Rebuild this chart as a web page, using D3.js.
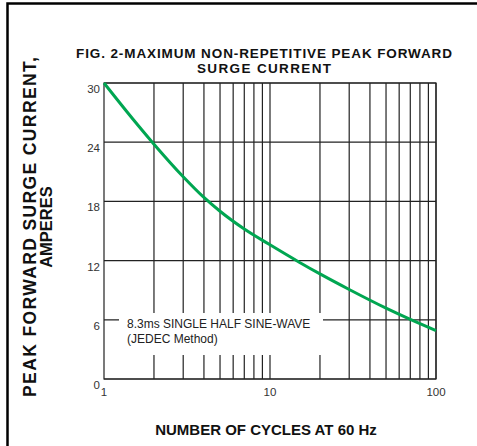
<!DOCTYPE html>
<html><head><meta charset="utf-8">
<script src="https://d3js.org/d3.v7.min.js"></script>
<style>
body{margin:0;background:#fff;}
svg{display:block;font-family:Arial,"Liberation Sans",Helvetica,sans-serif;}
</style></head>
<body>
<script>
// Data
const cycles  = [1, 1.5, 2, 3, 4, 5, 7, 10, 15, 20, 30, 50, 70, 100];
const current = [30, 26.3, 23.8, 20.5, 18.4, 17.0, 15.2, 13.6, 11.84, 10.65, 9.07, 7.18, 6.04, 4.91];
const yTicks = [0, 6, 12, 18, 24, 30];
const xTickLabels = [1, 10, 100];
const xGrid = [2,3,4,5,6,7,8,9,10,20,30,40,50,60,70,80,90,100];
const titleLines = ["FIG. 2-MAXIMUM NON-REPETITIVE PEAK FORWARD", "SURGE CURRENT"];
const yLabelLines = ["PEAK  FORWARD SURGE CURRENT,", "AMPERES"];
const xLabel = "NUMBER OF CYCLES AT 60 Hz";
const noteLines = ["8.3ms SINGLE HALF SINE-WAVE", "(JEDEC Method)"];

const W = 477, H = 446;
const svg = d3.select("body").append("svg").attr("width", W).attr("height", H);

// outer frame
svg.append("rect").attr("x", 7.5).attr("y", 3.5).attr("width", 490).attr("height", 470)
  .attr("fill", "none").attr("stroke", "#000").attr("stroke-width", 2.5);

const L = 104, R = 436, T = 83, B = 379;
const x = d3.scaleLog().domain([1, 100]).range([L, R]);
const y = d3.scaleLinear().domain([0, 30]).range([B, T]);

const grid = svg.append("g").attr("stroke", "#222").attr("stroke-width", 1.2);
grid.selectAll("line.v").data(xGrid).join("line")
  .attr("x1", d => x(d)).attr("x2", d => x(d)).attr("y1", T).attr("y2", B);
grid.selectAll("line.h").data(yTicks).join("line")
  .attr("x1", L).attr("x2", R).attr("y1", d => y(d)).attr("y2", d => y(d));

// annotation box (white background interrupts grid)
svg.append("rect").attr("x", 119).attr("y", 313).attr("width", 204).attr("height", 42).attr("fill", "#fff");
svg.append("g").selectAll("text").data(noteLines).join("text")
  .attr("x", 127).attr("y", (d, i) => 328 + i * 15)
  .attr("font-size", 12).attr("fill", "#222").text(d => d);

// plot frame
svg.append("rect").attr("x", L).attr("y", T).attr("width", R - L).attr("height", B - T)
  .attr("fill", "none").attr("stroke", "#222").attr("stroke-width", 1.2);

// curve
const line = d3.line().x((d, i) => x(cycles[i])).y(d => y(d)).curve(d3.curveMonotoneX);
svg.append("path").datum(current).attr("d", line)
  .attr("fill", "none").attr("stroke", "#00a651").attr("stroke-width", 3);

// y tick labels
svg.append("g").selectAll("text").data(yTicks).join("text")
  .attr("x", 100).attr("y", d => y(d) + 10).attr("text-anchor", "end")
  .attr("font-size", 11.5).attr("fill", "#333").text(d => d);

// x tick labels
svg.append("g").selectAll("text").data(xTickLabels).join("text")
  .attr("x", d => x(d)).attr("y", 396).attr("text-anchor", "middle")
  .attr("font-size", 11.5).attr("fill", "#333").text(d => d);

// title
svg.append("g").selectAll("text").data(titleLines).join("text")
  .attr("x", 264).attr("y", (d, i) => 57.5 + i * 15.5).attr("text-anchor", "middle")
  .attr("font-size", 13.5).attr("font-weight", "bold").attr("fill", "#111")
  .attr("textLength", (d, i) => i === 0 ? 376 : 134).attr("lengthAdjust", "spacing")
  .text(d => d);

// x label
svg.append("text").attr("x", 266).attr("y", 435).attr("text-anchor", "middle")
  .attr("font-size", 15).attr("font-weight", "bold").attr("fill", "#111").text(xLabel);

// y label
const yl = svg.append("g").selectAll("text").data(yLabelLines).join("text")
  .attr("transform", (d, i) => `translate(${i === 0 ? 36 : 52},227) rotate(-90)`)
  .attr("text-anchor", "middle")
  .attr("font-size", (d, i) => i === 0 ? 17.5 : 16.5).attr("font-weight", "bold").attr("fill", "#111")
  .text(d => d);
yl.filter((d, i) => i === 0).attr("textLength", 340).attr("lengthAdjust", "spacing");
</script>
</body></html>
